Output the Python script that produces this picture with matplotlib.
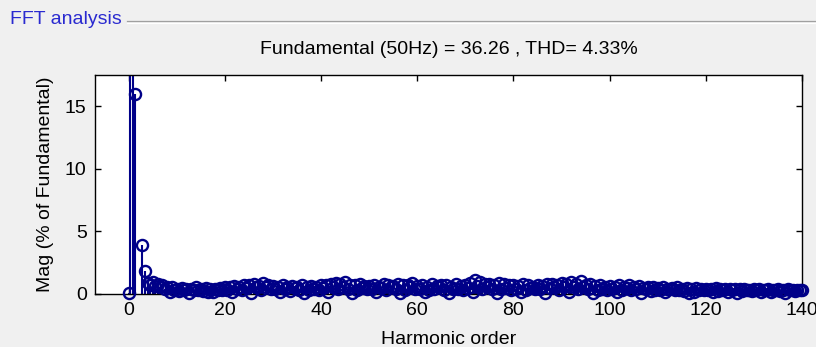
import numpy as np
import matplotlib
matplotlib.use("Agg")
import matplotlib.pyplot as plt
from matplotlib.lines import Line2D

plt.rcParams['font.family'] = ['Liberation Sans', 'DejaVu Sans']

# Spectrum around the fundamental (harmonic order, % of fundamental)
low_orders = [0.0, 0.3, 1.0, 1.35, 2.7, 3.4]
low_mags = [0.05, 40.0, 100.0, 16.0, 3.9, 1.8]

# Remaining spectrum, half-order resolution from order 4 to 140
band_start, band_step = 4.0, 0.5
band_mags = [
    0.85, 0.7, 0.95, 0.6, 0.75, 0.5, 0.65, 0.4, 0.55, 0.1, 0.5, 0.3,
    0.4, 0.2, 0.45, 0.3, 0.35, 0.05, 0.4, 0.25, 0.5, 0.3, 0.35, 0.2, 0.45, 0.1, 0.4, 0.15, 0.35, 0.25, 0.45, 0.3,
    0.5, 0.3, 0.55, 0.1, 0.6, 0.4, 0.5, 0.25, 0.65, 0.45, 0.7, 0.05, 0.8, 0.5, 0.6, 0.3, 0.85, 0.55, 0.7, 0.4,
    0.6, 0.35, 0.55, 0.1, 0.65, 0.4, 0.5, 0.2, 0.6, 0.45, 0.55, 0.3, 0.7, 0.05, 0.5, 0.25, 0.6, 0.35, 0.55, 0.3,
    0.7, 0.45, 0.65, 0.1, 0.8, 0.5, 0.85, 0.35, 0.75, 0.55, 0.9, 0.4, 0.7, 0.05, 0.65, 0.3, 0.75, 0.45, 0.6, 0.35,
    0.6, 0.4, 0.7, 0.1, 0.55, 0.45, 0.75, 0.25, 0.65, 0.5, 0.6, 0.35, 0.8, 0.05, 0.7, 0.3, 0.65, 0.5, 0.85, 0.4,
    0.6, 0.35, 0.7, 0.1, 0.55, 0.3, 0.8, 0.4, 0.6, 0.5, 0.65, 0.25, 0.7, 0.05, 0.55, 0.35, 0.75, 0.4, 0.6, 0.3,
    0.7, 0.45, 0.85, 0.1, 1.05, 0.6, 0.9, 0.4, 0.75, 0.55, 0.8, 0.35, 0.7, 0.05, 0.85, 0.4, 0.75, 0.45, 0.65, 0.3,
    0.7, 0.4, 0.6, 0.1, 0.75, 0.3, 0.65, 0.45, 0.55, 0.35, 0.7, 0.4, 0.6, 0.05, 0.75, 0.45, 0.8, 0.5, 0.65, 0.3,
    0.85, 0.5, 0.75, 0.1, 0.95, 0.55, 0.8, 0.4, 1.0, 0.5, 0.7, 0.35, 0.75, 0.05, 0.6, 0.3, 0.65, 0.4, 0.55, 0.25,
    0.6, 0.35, 0.5, 0.1, 0.65, 0.3, 0.55, 0.45, 0.7, 0.25, 0.5, 0.35, 0.6, 0.05, 0.45, 0.4, 0.55, 0.2, 0.5, 0.3,
    0.45, 0.3, 0.5, 0.1, 0.4, 0.35, 0.45, 0.25, 0.5, 0.3, 0.4, 0.2, 0.45, 0.05, 0.4, 0.15, 0.45, 0.3, 0.35, 0.25,
    0.4, 0.25, 0.35, 0.1, 0.45, 0.2, 0.35, 0.3, 0.4, 0.15, 0.35, 0.25, 0.4, 0.05, 0.35, 0.2, 0.4, 0.25, 0.3, 0.2,
    0.35, 0.25, 0.4, 0.1, 0.3, 0.25, 0.35, 0.15, 0.3, 0.25, 0.35, 0.2, 0.3, 0.05, 0.35, 0.25, 0.3, 0.2, 0.3, 0.25, 0.3,
]
band_orders = band_start + band_step * np.arange(len(band_mags))

fundamental_hz = 50
fundamental_mag = 36.26
thd_pct = 4.33

x_ticks = [0, 20, 40, 60, 80, 100, 120, 140]
y_ticks = [0, 5, 10, 15]

orders = np.concatenate([low_orders, band_orders])
mags = np.concatenate([low_mags, band_mags])

stem_color = '#000088'
bg = '#f0f0f0'
fs = 14

fig = plt.figure(figsize=(8.16, 3.47), dpi=100, facecolor=bg)
ax = fig.add_axes([0.1164, 0.154, 0.983 - 0.1164, 0.784 - 0.154])
ax.set_facecolor('white')

# stems
ax.vlines(orders, 0, mags, colors=stem_color, linewidth=1.5, zorder=2)
# open circle markers (unclipped, like MATLAB)
ax.plot(orders, mags, linestyle='none', marker='o', markersize=8,
        markerfacecolor='none', markeredgecolor=stem_color,
        markeredgewidth=1.7, clip_on=False, zorder=3)

ax.set_xlim(-7, 140)
ax.set_ylim(0, 17.5)
ax.set_xticks(x_ticks)
ax.set_yticks(y_ticks)
ax.tick_params(direction='in', length=4.5, width=1.0, top=True, right=True,
               labelsize=fs, colors='black', pad=6)
for s in ax.spines.values():
    s.set_linewidth(1.0)
    s.set_color('black')

ax.set_title(f'Fundamental ({fundamental_hz}Hz) = {fundamental_mag} , THD= {thd_pct}%',
             fontsize=fs, pad=15)
ax.set_xlabel('Harmonic order', fontsize=fs, labelpad=9)
ax.set_ylabel('Mag (% of Fundamental)', fontsize=fs, labelpad=8)

# group box header
fig.text(10 / 816, 1 - 19 / 347, 'FFT analysis', color='#2a2ad0', fontsize=fs,
         ha='left', va='center')
fig.add_artist(Line2D([127 / 816, 1.0], [1 - 21 / 347] * 2, color='#a0a0a0',
                      linewidth=0.9, transform=fig.transFigure))
fig.add_artist(Line2D([127 / 816, 1.0], [1 - 22.5 / 347] * 2, color='white',
                      linewidth=0.9, transform=fig.transFigure))

fig.savefig('out.png', dpi=100, facecolor=bg)
